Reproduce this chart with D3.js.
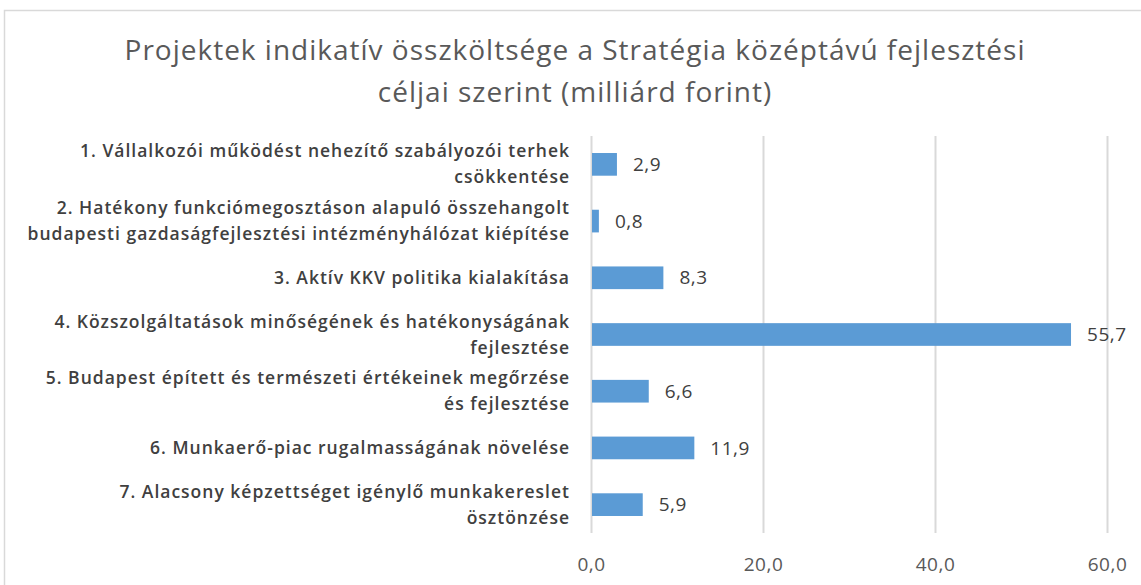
<!DOCTYPE html>
<html>
<head>
<meta charset="utf-8">
<script src="https://cdn.jsdelivr.net/npm/d3@7"></script>
<style>
  body { margin: 0; background: #fff; }
  svg { display: block; }
</style>
</head>
<body>
<svg id="chart"></svg>
<script>
// chart data
const categories = [
  "1. Vállalkozói működést nehezítő szabályozói terhek\ncsökkentése",
  "2. Hatékony funkciómegosztáson alapuló összehangolt\nbudapesti gazdaságfejlesztési intézményhálózat kiépítése",
  "3. Aktív KKV politika kialakítása",
  "4. Közszolgáltatások minőségének és hatékonyságának\nfejlesztése",
  "5. Budapest épített és természeti értékeinek megőrzése\nés fejlesztése",
  "6. Munkaerő-piac rugalmasságának növelése",
  "7. Alacsony képzettséget igénylő munkakereslet\nösztönzése"
];
const values = [2.9, 0.8, 8.3, 55.7, 6.6, 11.9, 5.9];
const xTicks = [0, 20, 40, 60];
const titleLines = [
  "Projektek indikatív összköltsége a Stratégia középtávú fejlesztési",
  "céljai szerint (milliárd forint)"
];

const W = 1141, H = 585;
const margin = { top: 136, right: 34, bottom: 52, left: 591 };
const width = W - margin.left - margin.right;
const height = H - margin.top - margin.bottom;
const font = "'Open Sans', sans-serif";
const fmt = (v) => v.toFixed(1).replace(".", ",");

const svg = d3.select("#chart").attr("width", W).attr("height", H);

// outer border (only left and top visible)
svg.append("rect")
  .attr("x", 4.5).attr("y", 10.5)
  .attr("width", W + 20).attr("height", H + 20)
  .attr("fill", "none").attr("stroke", "#d9d9d9").attr("stroke-width", 1.5);

// title
svg.append("g").selectAll("text")
  .data(titleLines)
  .enter()
  .append("text")
  .attr("x", 575)
  .attr("y", (d, i) => 60 + i * 42)
  .attr("text-anchor", "middle")
  .attr("font-family", font)
  .attr("font-size", 28)
  .attr("letter-spacing", 1)
  .attr("fill", "#595959")
  .text((d) => d);

const x = d3.scaleLinear().domain([0, 60]).range([0, width]);
const y = d3.scaleBand()
  .domain(categories)
  .range([0, height])
  .paddingInner(0.6)
  .paddingOuter(0.3);

const g = svg.append("g").attr("transform", `translate(${margin.left},${margin.top})`);

// x axis with gridlines
const xAxis = d3.axisBottom(x).tickValues(xTicks).tickSize(-height).tickFormat(fmt);
g.append("g")
  .attr("class", "axis x")
  .attr("transform", `translate(0,${height})`)
  .call(xAxis)
  .call((a) => a.select(".domain").remove())
  .call((a) => a.selectAll("line").attr("stroke", "#d9d9d9").attr("stroke-width", 2))
  .selectAll("text")
  .attr("y", 25)
  .attr("font-family", font)
  .attr("font-size", 19)
  .attr("letter-spacing", 0.5)
  .attr("fill", "#595959");

// bars
g.append("g")
  .selectAll("rect")
  .data(values)
  .enter()
  .append("rect")
  .attr("x", x(0) + 1)
  .attr("y", (d, i) => y(categories[i]))
  .attr("width", (d) => x(d) - x(0))
  .attr("height", y.bandwidth())
  .attr("fill", "#5b9bd5");

// data labels
g.append("g")
  .selectAll("text")
  .data(values)
  .enter()
  .append("text")
  .attr("x", (d) => x(d) + 17)
  .attr("y", (d, i) => y(categories[i]) + y.bandwidth() / 2)
  .attr("dy", "0.35em")
  .attr("font-family", font)
  .attr("font-size", 19)
  .attr("letter-spacing", 0.5)
  .attr("fill", "#404040")
  .text(fmt);

// category labels
const labels = g.append("g")
  .selectAll("text")
  .data(categories)
  .enter()
  .append("text")
  .attr("text-anchor", "end")
  .attr("font-family", font)
  .attr("font-size", 17.5)
  .attr("font-weight", 600)
  .attr("letter-spacing", 1)
  .attr("fill", "#404040")
  .attr("transform", (d) => `translate(-21,${y(d) + y.bandwidth() / 2})`);

labels.each(function (d) {
  const lines = d.split("\n");
  const lh = 26;
  d3.select(this).selectAll("tspan")
    .data(lines)
    .enter()
    .append("tspan")
    .attr("x", 0)
    .attr("y", (l, i) => (i - (lines.length - 1) / 2) * lh)
    .attr("dy", "0.35em")
    .text((l) => l);
});
</script>
</body>
</html>
